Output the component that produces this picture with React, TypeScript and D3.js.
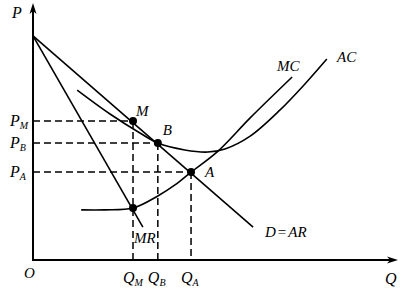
import React from "react";
import * as d3 from "d3";

// Data (economic units: Q and P on 0–10 scales)
const demandLine: [number, number][] = [[0, 8.72], [6.03, 1.28]];
const mrLine: [number, number][] = [[0, 8.72], [3.01, 1.28]];
const acCurve: [number, number][] = [
  [1.21, 6.61], [2.11, 5.68], [2.93, 4.94], [3.42, 4.55], [4.16, 4.28],
  [4.79, 4.2], [5.26, 4.32], [5.95, 4.82], [6.77, 5.84], [7.45, 6.85], [8.05, 7.82],
];
const mcCurve: [number, number][] = [
  [1.32, 1.95], [1.97, 1.95], [2.74, 2.02], [3.42, 2.49], [3.89, 2.92],
  [4.33, 3.42], [5.07, 4.24], [5.95, 5.53], [7.1, 7.12],
];
const pointNames = ["M", "B", "A", "E"];
const pointQ = [2.74, 3.42, 4.33, 2.74];
const pointP = [5.41, 4.55, 3.42, 2.02];
const priceLabels = ["M", "B", "A"]; // P_M, P_B, P_A
const qtyLabels = ["M", "B", "A"]; // Q_M, Q_B, Q_A

export default function App() {
  const W = 414, H = 299;
  const x = d3.scaleLinear().domain([0, 10]).range([33, 398]);
  const y = d3.scaleLinear().domain([0, 10]).range([260, 3]);
  const line = d3.line<[number, number]>().x(d => x(d[0])).y(d => y(d[1]));
  const smooth = d3.line<[number, number]>().x(d => x(d[0])).y(d => y(d[1])).curve(d3.curveCatmullRom.alpha(0.5));
  const font = "'Liberation Serif', 'Times New Roman', serif";
  const x0 = x(0), y0 = y(0);
  const pts = pointNames.map((n, i) => ({ n, px: x(pointQ[i]), py: y(pointP[i]) }));
  const labelOff: Record<string, [number, number]> = { M: [3, -5], B: [5, -8], A: [14, 5] };
  return (
    <svg width={W} height={H} style={{ position: "absolute", left: 0, top: 0, background: "#fff" }}
      fontFamily={font} fontStyle="italic">
      {/* axes */}
      <line x1={x0} y1={y0} x2={x0} y2={9} stroke="#000" strokeWidth={2} />
      <path d={`M${x0},${3} L${x0 - 3.5},${14} L${x0},${11} L${x0 + 3.5},${14} Z`} fill="#000" />
      <line x1={x0 - 1} y1={y0} x2={x(10) - 6} y2={y0} stroke="#000" strokeWidth={2} />
      <path d={`M${x(10)},${y0} L${x(10) - 11},${y0 - 3.5} L${x(10) - 8},${y0} L${x(10) - 11},${y0 + 3.5} Z`} fill="#000" />
      {/* dashed guides */}
      {pts.slice(0, 3).map((p, i) => (
        <g key={"d" + i}>
          <line x1={x0} y1={p.py} x2={p.px} y2={p.py} stroke="#000" strokeWidth={1.5} strokeDasharray="7,4" />
          <line x1={p.px} y1={p.py} x2={p.px} y2={y0} stroke="#000" strokeWidth={1.5} strokeDasharray="7,4" />
        </g>
      ))}
      {/* curves */}
      <path d={line(demandLine)!} fill="none" stroke="#000" strokeWidth={1.6} />
      <path d={line(mrLine)!} fill="none" stroke="#000" strokeWidth={1.6} />
      <path d={smooth(acCurve)!} fill="none" stroke="#000" strokeWidth={1.6} />
      <path d={smooth(mcCurve)!} fill="none" stroke="#000" strokeWidth={1.6} />
      {pts.map((p, i) => <circle key={"c" + i} cx={p.px} cy={p.py} r={4} fill="#000" />)}
      {/* point labels */}
      {pts.slice(0, 3).map((p, i) => (
        <text key={"l" + i} x={p.px + labelOff[p.n][0]} y={p.py + labelOff[p.n][1]} fontSize={15}>{p.n}</text>
      ))}
      {/* price labels */}
      {pts.slice(0, 3).map((p, i) => (
        <text key={"p" + i} x={10} y={p.py + 5} fontSize={16}>P<tspan fontSize={10} dy={3}>{priceLabels[i]}</tspan></text>
      ))}
      {/* quantity labels */}
      {pts.slice(0, 3).map((p, i) => (
        <text key={"q" + i} x={p.px - 10} y={283} fontSize={16}>Q<tspan fontSize={10} dy={3}>{qtyLabels[i]}</tspan></text>
      ))}
      <text x={12} y={18} fontSize={16}>P</text>
      <text x={385} y={284} fontSize={16}>Q</text>
      <text x={24} y={278} fontSize={15}>O</text>
      <text x={134} y={243} fontSize={15}>MR</text>
      <text x={265} y={237} fontSize={15}>D<tspan dx={2} fontStyle="normal">=</tspan><tspan dx={2}>AR</tspan></text>
      <text x={277} y={71} fontSize={15}>MC</text>
      <text x={337} y={62} fontSize={15}>AC</text>
    </svg>
  );
}
